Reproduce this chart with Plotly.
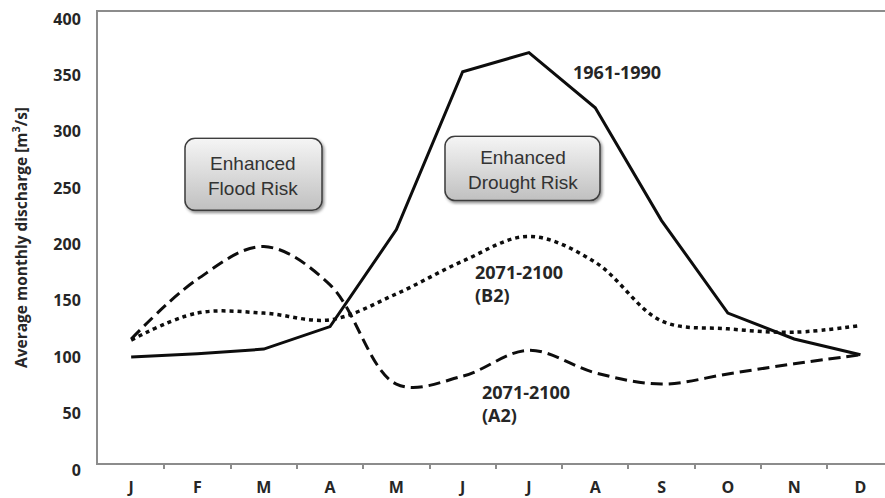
import base64
import plotly.graph_objects as go

# ---------------- data ----------------
months = ["J", "F", "M", "A", "M", "J", "J", "A", "S", "O", "N", "D"]
month_idx = list(range(len(months)))
baseline_1961_1990 = [94, 97, 101, 121, 207, 347, 364, 315, 215, 133, 110, 96]
b2_2071_2100 = [109, 133, 133, 127, 150, 179, 201, 178, 126, 119, 116, 122]
a2_2071_2100 = [110, 163, 192, 158, 70, 77, 100, 80, 70, 79, 88, 96]
y_ticks = [0, 50, 100, 150, 200, 250, 300, 350, 400]

# ---------------- layout geometry ----------------
W, H = 885, 498
L, R, T, B = 98, 0, 12, 29
PW, PH = W - L - R, H - T - B


def px(x):
    return (x - L) / PW


def py(y):
    return (H - B - y) / PH


def box_svg(w, h):
    svg = (
        f'<svg xmlns="http://www.w3.org/2000/svg" width="{w+6}" height="{h+6}" viewBox="0 0 {w+6} {h+6}">'
        '<defs><linearGradient id="g" x1="0" y1="0" x2="0" y2="1">'
        '<stop offset="0" stop-color="#f5f5f5"/><stop offset="1" stop-color="#c0c0c0"/></linearGradient>'
        '<filter id="s" x="-10%" y="-10%" width="130%" height="140%">'
        '<feDropShadow dx="1.5" dy="2" stdDeviation="1.5" flood-color="#000" flood-opacity="0.45"/></filter></defs>'
        f'<rect x="1" y="1" width="{w}" height="{h}" rx="10" ry="10" fill="url(#g)" '
        'stroke="#3c3c3c" stroke-width="1.5" filter="url(#s)"/></svg>'
    )
    return "data:image/svg+xml;base64," + base64.b64encode(svg.encode()).decode()


fig = go.Figure()
fig.add_trace(go.Scatter(x=month_idx, y=baseline_1961_1990, mode="lines",
                         line=dict(color="#0d0d0d", width=3), name="1961-1990"))
fig.add_trace(go.Scatter(x=month_idx, y=b2_2071_2100, mode="lines",
                         line=dict(color="#0d0d0d", width=3.5, dash="4px,4px",
                                   shape="spline", smoothing=1.0), name="B2"))
fig.add_trace(go.Scatter(x=month_idx, y=a2_2071_2100, mode="lines",
                         line=dict(color="#0d0d0d", width=3, dash="12px,6px",
                                   shape="spline", smoothing=1.0), name="A2"))

images = []
for (x0, y0, w, h) in [(185, 140, 137, 73), (445, 138, 155, 65)]:
    images.append(dict(source=box_svg(w, h), xref="paper", yref="paper",
                       x=px(x0 - 1), y=py(y0 - 1), sizex=(w + 6) / PW, sizey=(h + 6) / PH,
                       xanchor="left", yanchor="top", sizing="stretch", layer="above"))

bold = dict(family="Open Sans", size=18, color="#262626", weight="bold")
box_font = dict(family="Liberation Sans", size=19, color="#333333")
annotations = [
    dict(text="Enhanced<br>Flood Risk", x=px(253), y=py(178), font=box_font),
    dict(text="Enhanced<br>Drought Risk", x=px(523), y=py(172), font=box_font),
    dict(text="1961-1990", x=px(617), y=py(73), font=bold),
    dict(text="2071-2100<br>(B2)", x=px(473), y=py(287), xanchor="left", align="left", font=bold),
    dict(text="2071-2100<br>(A2)", x=px(480), y=py(409), xanchor="left", align="left", font=bold),
]
for a in annotations:
    a.setdefault("xref", "paper")
    a.setdefault("yref", "paper")
    a.setdefault("xanchor", "center")
    a.setdefault("yanchor", "middle")
    a.setdefault("showarrow", False)

fig.update_layout(
    width=W, height=H,
    margin=dict(l=L, r=R, t=T, b=B),
    paper_bgcolor="white", plot_bgcolor="white",
    showlegend=False,
    images=images,
    annotations=annotations,
    xaxis=dict(range=[-0.5, 11.37], tickvals=month_idx, ticktext=months,
               showgrid=False, zeroline=False, showline=True, linecolor="#8c8c8c",
               linewidth=2, mirror=True, ticks="", ticklabelstandoff=9,
               tickfont=dict(family="Open Sans", size=16, color="#262626", weight="bold"),
               minor=dict(tickvals=[i + 0.5 for i in month_idx[:-1]], ticks="outside",
                          ticklen=4, tickcolor="#8c8c8c", tickwidth=1.5, showgrid=False)),
    yaxis=dict(range=[0, 400], tickvals=y_ticks, showgrid=False, zeroline=False,
               showline=True, linecolor="#8c8c8c", linewidth=2, ticks="",
               ticklabelstandoff=12, ticklabelshift=7,
               tickfont=dict(family="Open Sans", size=16, color="#262626", weight="bold"),
               title=dict(text="Average monthly discharge [m<sup>3</sup>/s]", standoff=22,
                          font=dict(family="Open Sans", size=15.5, color="#262626", weight="bold"))),
)

fig.write_html("out.html", config={"displayModeBar": False},
               post_script="document.body.style.margin='0';")
